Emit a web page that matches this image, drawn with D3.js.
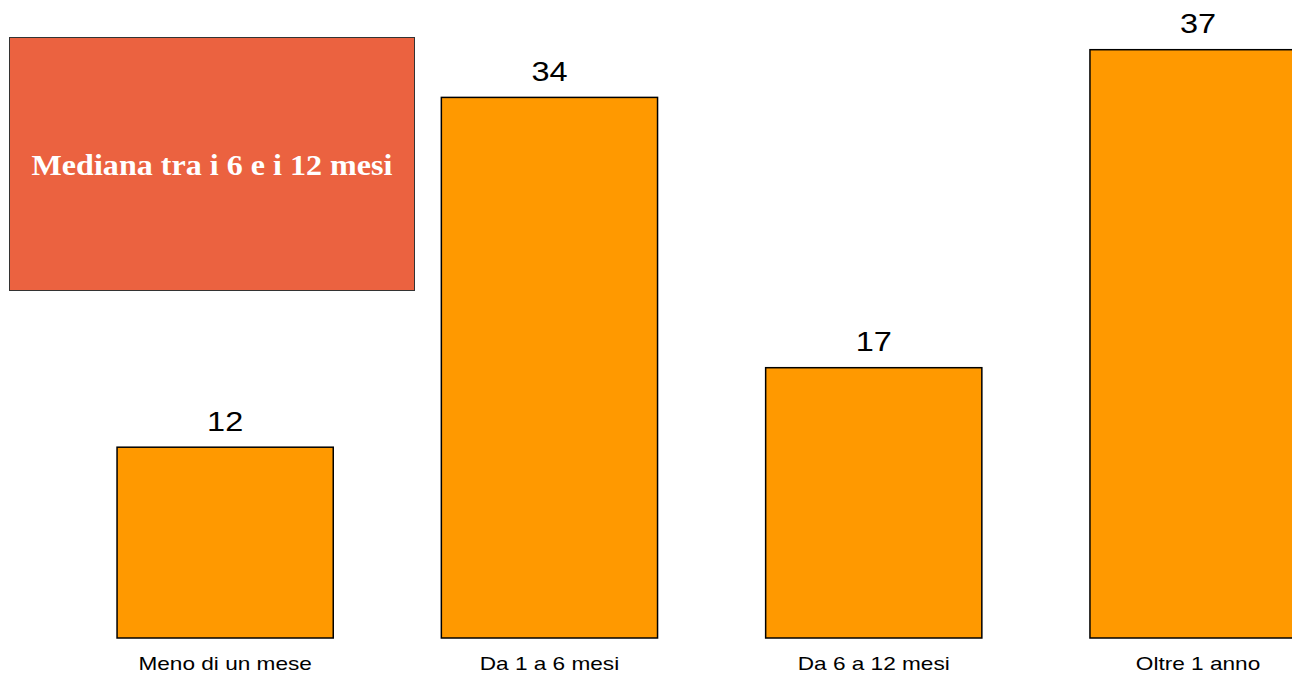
<!DOCTYPE html>
<html>
<head>
<meta charset="utf-8">
<script src="https://cdn.jsdelivr.net/npm/d3@7"></script>
<style>
  html, body { margin: 0; padding: 0; background: #fff; overflow: hidden; }
  svg { display: block; }
</style>
</head>
<body>
<svg id="chart" width="1292" height="673"></svg>
<script>
const categories = ["Meno di un mese", "Da 1 a 6 mesi", "Da 6 a 12 mesi", "Oltre 1 anno"];
const values = [12, 34, 17, 37];
const annotationText = "Mediana tra i 6 e i 12 mesi";

const svg = d3.select("#chart");

const x = d3.scaleBand()
  .domain(categories)
  .range([63, 63 + 4 * 324.3])
  .paddingInner(1 / 3)
  .paddingOuter(1 / 6);

const y = d3.scaleLinear().domain([0, 40]).range([638, 2]);

// bars
svg.append("g").selectAll("rect")
  .data(categories)
  .join("rect")
  .attr("x", d => x(d))
  .attr("y", (d, i) => y(values[i]))
  .attr("width", x.bandwidth())
  .attr("height", (d, i) => y(0) - y(values[i]))
  .attr("fill", "#FF9900")
  .attr("stroke", "#000")
  .attr("stroke-width", 1.5);

// value labels (glyphs slightly stretched horizontally as in the reference)
svg.append("g").selectAll("text")
  .data(categories)
  .join("text")
  .attr("transform", (d, i) => `translate(${x(d) + x.bandwidth() / 2},${y(values[i]) - 16.5}) scale(1.16,1)`)
  .attr("text-anchor", "middle")
  .attr("font-family", "Liberation Sans, Arial, sans-serif")
  .attr("font-size", 28)
  .attr("fill", "#000")
  .text((d, i) => values[i]);

// category axis labels
const xAxis = d3.axisBottom(x).tickSize(0).tickPadding(0);
const gx = svg.append("g").attr("transform", "translate(0,638)").call(xAxis);
gx.select(".domain").remove();
gx.selectAll("text")
  .attr("y", 0)
  .attr("dy", 0)
  .attr("transform", "translate(0,32) scale(1.19,1)")
  .attr("font-family", "Liberation Sans, Arial, sans-serif")
  .attr("font-size", 19)
  .attr("fill", "#000");

// annotation box
svg.append("rect")
  .attr("x", 9.5).attr("y", 37.5)
  .attr("width", 405).attr("height", 253)
  .attr("fill", "#EB6240")
  .attr("stroke", "#333")
  .attr("stroke-width", 1);

svg.append("text")
  .attr("transform", "translate(212,175) scale(1.07,1)")
  .attr("text-anchor", "middle")
  .attr("font-family", "Liberation Serif, Times New Roman, serif")
  .attr("font-weight", "bold")
  .attr("font-size", 30)
  .attr("fill", "#fff")
  .text(annotationText);
</script>
</body>
</html>
